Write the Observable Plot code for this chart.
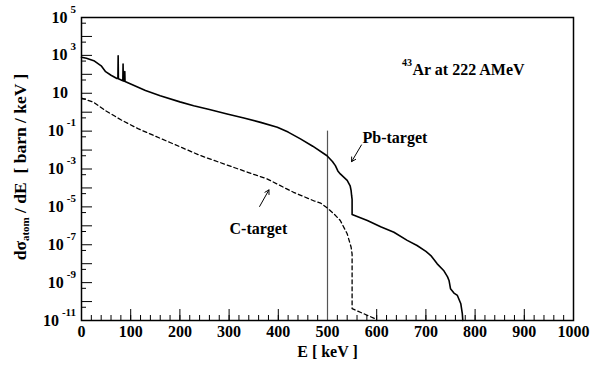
<!DOCTYPE html>
<html>
<head>
<meta charset="utf-8">
<script src="https://cdn.jsdelivr.net/npm/d3@7"></script>
<script src="https://cdn.jsdelivr.net/npm/@observablehq/plot@0.6"></script>
<style>
  html, body { margin: 0; padding: 0; background: #fff; }
  #chart { width: 606px; height: 378px; }
</style>
</head>
<body>
<div id="chart"></div>
<script>
// ---- data ----
const pbEnergy = [0, 10, 25, 40, 49, 60, 72, 74, 74.5, 75, 84, 84.5, 85, 87.5, 88, 88.5, 100, 130, 160, 200, 228, 260, 296, 330, 364, 398, 420, 445, 470, 499, 510, 516, 521, 526, 540, 546, 548, 549, 550, 550, 581, 608, 635, 662, 682, 700, 710, 723, 736, 744, 747, 750, 757, 764, 771, 774, 775];
const pbValue = [800, 700, 525, 280, 138, 89, 60, 60, 950, 58, 46, 350, 45, 43, 140, 42, 31, 14, 7.4, 3.5, 2.2, 1.4, 0.81, 0.49, 0.29, 0.16, 0.089, 0.039, 0.016, 5e-3, 2.5e-3, 1.5e-3, 7.9e-4, 5.5e-4, 2.5e-4, 1.3e-4, 7.2e-5, 4e-5, 2.5e-5, 4e-6, 1.9e-6, 8.9e-7, 4.6e-7, 1.7e-7, 9.1e-8, 4.5e-8, 2.7e-8, 9.8e-9, 4.4e-9, 2e-9, 1.3e-9, 4.8e-10, 2.8e-10, 2.1e-10, 7.6e-11, 2.3e-11, 1e-11];

const cEnergy = [0, 25, 49, 80, 116, 180, 242, 310, 377, 431, 472, 486, 499, 513, 526, 540, 548, 550, 550, 575, 598, 600];
const cValue = [5.6, 3.3, 1.2, 0.4, 0.13, 0.025, 5.1e-3, 1.2e-3, 3e-4, 5.9e-5, 2.1e-5, 1.6e-5, 8.9e-6, 4.3e-6, 1.9e-6, 3.8e-7, 7.4e-8, 3.2e-8, 4.2e-11, 2.2e-11, 1.2e-11, 1e-11];

const markerEnergy = [500];
const markerRange = [1e-11, 0.1];

const xTickLabels = [0, 100, 200, 300, 400, 500, 600, 700, 800, 900, 1000];
const xMinorTicks = d3.range(0, 1001, 20);
const yExponents = [5, 3, 1, -1, -3, -5, -7, -9, -11];
const yMajorExp = d3.range(-11, 6);
const yMinorExp = d3.range(-11, 5);

const titleText = "Ar at 222 AMeV";
const titleMass = "43";
const pbLabel = "Pb-target";
const cLabel = "C-target";
const xTitle = "E [ keV ]";

// ---- layout ----
const W = 606, H = 378;
const mL = 81, mR = 33, mT = 17, mB = 58;
const innerH = H - mT - mB;
const FONT = "Liberation Serif";

const pb = pbEnergy.map((e, i) => ({e, v: pbValue[i]}));
const cc = cEnergy.map((e, i) => ({e, v: cValue[i]}));

const bold = {fontFamily: FONT, fontWeight: "bold", fill: "black"};

const plot = Plot.plot({
  width: W, height: H,
  marginLeft: mL, marginRight: mR, marginTop: mT, marginBottom: mB,
  style: {background: "white", fontFamily: FONT},
  x: {domain: [0, 1000], axis: null},
  y: {type: "log", domain: [1e-11, 1e5], axis: null},
  marks: [
    // ticks (inward)
    Plot.tickX(xMinorTicks, {x: d => d, insetTop: innerH - 5, stroke: "black", strokeWidth: 1}),
    Plot.tickX(xTickLabels, {x: d => d, insetTop: innerH - 11, stroke: "black", strokeWidth: 1}),
    Plot.tickY(yMinorExp.map(k => 5 * Math.pow(10, k)), {y: d => d, insetRight: (W - mL - mR) - 5, stroke: "black", strokeWidth: 1}),
    Plot.tickY(yMajorExp.map(k => Math.pow(10, k)), {y: d => d, insetRight: (W - mL - mR) - 11, stroke: "black", strokeWidth: 1}),
    // marker line at 500 keV
    Plot.ruleX(markerEnergy, {x: d => d, y1: markerRange[0], y2: markerRange[1], stroke: "#555", strokeWidth: 1.2}),
    // curves
    Plot.line(cc, {x: "e", y: "v", stroke: "black", strokeWidth: 1.3, strokeDasharray: "4,3"}),
    Plot.line(pb, {x: "e", y: "v", stroke: "black", strokeWidth: 1.6}),
    // frame
    Plot.frame({stroke: "black", strokeWidth: 1.5}),
    // x tick labels
    Plot.text(xTickLabels, {x: d => d, frameAnchor: "bottom", dy: 16, text: d => String(d), fontSize: 16, ...bold}),
    // x title
    Plot.text([xTitle], {frameAnchor: "bottom", dx: 0, dy: 36, text: d => d, fontSize: 16, ...bold}),
    // annotations
    Plot.text([titleText], {frameAnchor: "top-left", dx: 331, dy: 46, textAnchor: "start", text: d => d, fontSize: 16, ...bold}),
    Plot.text([titleMass], {frameAnchor: "top-left", dx: 320.5, dy: 41, textAnchor: "start", text: d => d, fontSize: 10, ...bold}),
    Plot.text([pbLabel], {frameAnchor: "top-left", dx: 281, dy: 114, textAnchor: "start", text: d => d, fontSize: 16, ...bold}),
    Plot.text([cLabel], {frameAnchor: "top-left", dx: 148, dy: 205, textAnchor: "start", text: d => d, fontSize: 16, ...bold}),
    Plot.arrow([0], {x1: 569, y1: 0.0186, x2: 549, y2: 2.45e-3, stroke: "black", strokeWidth: 1, headLength: 7, bend: 0}),
    Plot.arrow([0], {x1: 362, y1: 1.05e-5, x2: 381, y2: 7.9e-5, stroke: "black", strokeWidth: 1, headLength: 7, bend: 0})
  ]
});

document.getElementById("chart").appendChild(plot);

// rich-text labels (superscripts/subscripts) positioned with Plot's own y scale
const svg = d3.select(plot);
const yScale = plot.scale("y");
const g = svg.append("g")
  .attr("font-family", FONT).attr("font-weight", "bold").attr("fill", "black");

yExponents.forEach(k => {
  const py = yScale.apply(Math.pow(10, k));
  const t = g.append("text")
    .attr("x", k === 1 ? 68 : 76)
    .attr("y", py + 5.5)
    .attr("text-anchor", "end")
    .attr("font-size", 16);
  t.append("tspan").text("10");
  if (k !== 1) {
    t.append("tspan").attr("dx", 3).attr("dy", -10).attr("font-size", 11).text(String(k));
  }
});

const yt = g.append("text")
  .attr("transform", `translate(26,${167}) rotate(-90)`)
  .attr("text-anchor", "middle")
  .attr("font-size", 17.5);
yt.append("tspan").text("dσ");
yt.append("tspan").attr("font-size", 11).attr("dy", 3).text("atom");
yt.append("tspan").attr("dy", -3).text(" / dE  [ barn / keV ]");
</script>
</body>
</html>
